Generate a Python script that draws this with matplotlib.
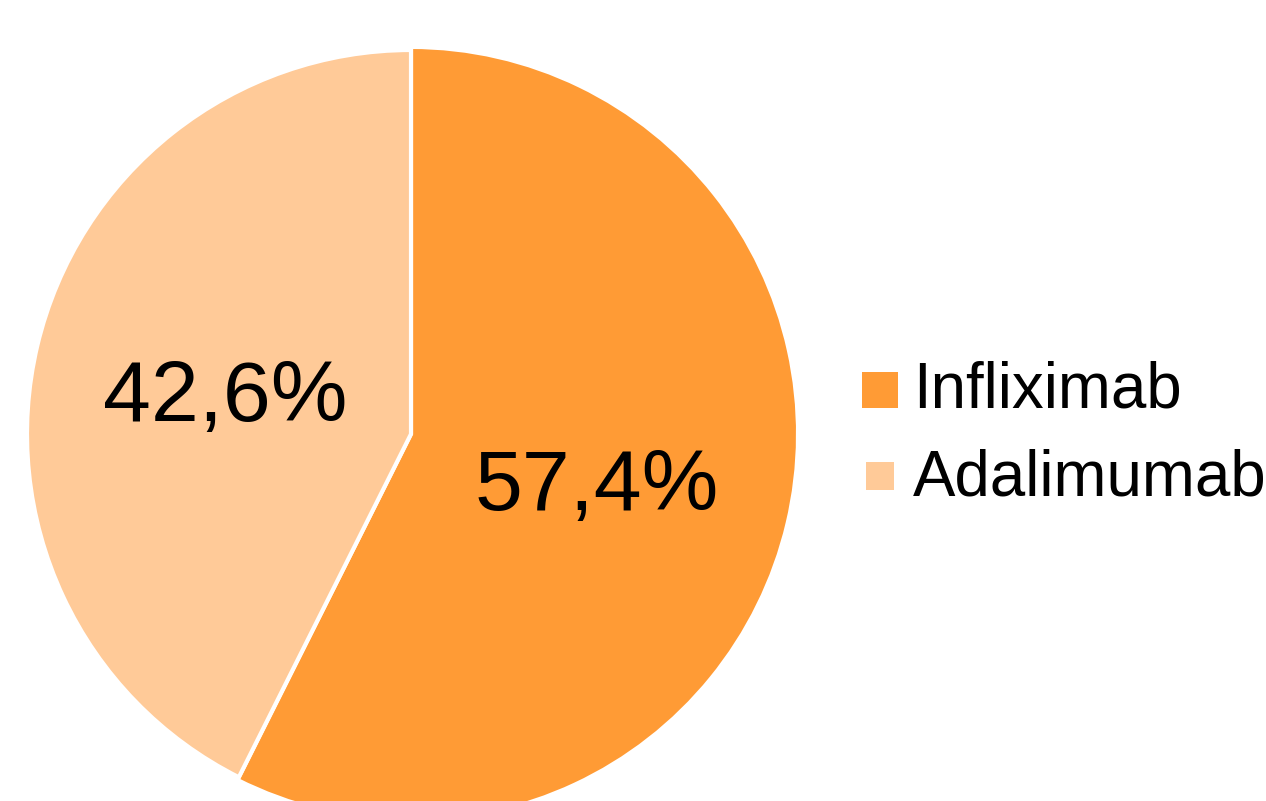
import matplotlib.pyplot as plt
from matplotlib.patches import Rectangle

plt.rcParams['font.family'] = ['Liberation Sans', 'DejaVu Sans']

labels = ['Infliximab', 'Adalimumab']
shares = [57.4, 42.6]
pct_text = ['57,4%', '42,6%']
colors = ['#FF9B35', '#FFCA98']

W, H = 1266, 801
fig = plt.figure(figsize=(W / 100, H / 100), dpi=100)
ax = fig.add_axes([0, 0, 1, 1])

wedges, _ = ax.pie(shares, colors=colors, startangle=90, counterclock=False,
                   radius=1, wedgeprops=dict(edgecolor='white', linewidth=3))
# the larger slice sits a touch proud of the other
wedges[0].set_radius(1.008)

# pie centre and radius in pixels, axes limits set so 1 data unit = R px
cx, cy, R = 411, 434, 384
ax.set_xlim(-cx / R, (W - cx) / R)
ax.set_ylim((cy - H) / R, cy / R)
ax.set_aspect('equal')
ax.axis('off')

# percentage labels inside each slice
label_pos = [(0.485, -0.14), (-0.485, 0.092)]
for (x, y), t in zip(label_pos, pct_text):
    ax.text(x, y, t, fontsize=62, ha='center', va='center', color='black')

# legend drawn by hand (the second key is a bit smaller)
boxes = [(862, 372, 36), (866, 462, 28)]
text_y = [390, 478]
for (bx, by, s), c, name, ty in zip(boxes, colors, labels, text_y):
    fig.patches.append(Rectangle((bx / W, 1 - (by + s) / H), s / W, s / H,
                                 transform=fig.transFigure, facecolor=c,
                                 edgecolor='none'))
    fig.text(913 / W, 1 - ty / H, name, fontsize=45.8, ha='left', va='center')

fig.savefig('out.png', dpi=100)
